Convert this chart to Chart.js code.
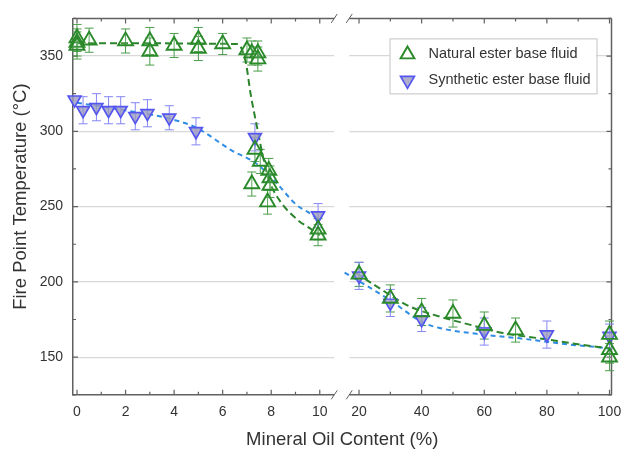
<!DOCTYPE html>
<html><head><meta charset="utf-8">
<script src="https://cdn.jsdelivr.net/npm/chart.js@4.4.1/dist/chart.umd.min.js"></script>
<style>html,body{margin:0;padding:0;background:#fff;overflow:hidden}</style>
</head><body>
<canvas id="c" width="622" height="452"></canvas>
<script>
// ---- data ----
const seriesNames = ['Natural ester base fluid', 'Synthetic ester base fluid'];
const xTitle = 'Mineral Oil Content (%)';
const yTitle = 'Fire Point Temperature (°C)';

const leftTicks = [0, 2, 4, 6, 8, 10];
const leftMinor = [1, 3, 5, 7, 9];
const rightTicks = [20, 40, 60, 80, 100];
const rightMinor = [30, 50, 70, 90];
const yTicks = [150, 200, 250, 300, 350];
const yMinor = [125, 175, 225, 275, 325, 375];

const natLeftX = [0, 0, 0, 0.5, 2, 3, 3, 4, 5, 5, 6, 7.0, 7.2, 7.45, 7.45, 7.33, 7.2, 7.55, 7.9, 7.95, 7.95, 7.85, 9.93, 9.93];
const natLeftY = [362, 359, 357, 360.5, 360, 360, 353, 357, 361, 355, 358, 354, 352, 352, 348, 288, 265, 280, 274, 269, 264, 253, 235, 231];
const natLeftErr = [9, 9, 9, 8, 8, 9, 9, 8, 8, 8, 7, 8, 8, 8, 8, 8, 8, 8, 8, 8, 8, 8, 7, 7];

const synLeftX = [-0.1, 0.25, 0.8, 1.3, 1.8, 2.4, 2.9, 3.8, 4.9, 7.33, 9.93];
const synLeftY = [321, 314, 316, 314, 314, 310, 312, 309, 300, 296, 244];
const synLeftErr = [0, 9, 9, 9, 9, 9, 9, 8, 9, 9, 8];

const natRightX = [20, 30, 40, 50, 60, 70, 100, 100, 100];
const natRightY = [205, 189, 180, 179, 171, 168, 165, 155, 150];
const natRightErr = [8, 9, 9, 9, 9, 8, 9, 9, 9];

const synRightX = [20, 30, 40, 60, 80, 100];
const synRightY = [204, 186, 175, 167, 165, 164];
const synRightErr = [9, 9, 8, 9, 9, 8];

const natFitLeftX = [0, 6.6, 6.95, 7.15, 7.45, 7.65, 7.9, 8.35, 9.1, 9.6, 10];
const natFitLeftY = [358.5, 358, 346, 325, 300, 284, 268, 254, 241, 235.5, 231];
const synFitLeftX = [0, 2.7, 3.8, 4.9, 6.4, 7.4, 8.2, 9.05, 9.5, 10];
const synFitLeftY = [319, 312, 308.5, 302.5, 287, 278.5, 266, 251, 246.5, 241];
const natFitRightX = [19, 25.6, 36.2, 45.7, 55.3, 66, 76.6, 95.8, 100];
const natFitRightY = [206, 197, 183.7, 177, 171.6, 166, 162.8, 156.9, 156];
const synFitRightX = [15.4, 29.8, 40.4, 45.7, 57.5, 71.3, 87.2, 97.9, 100];
const synFitRightY = [206.2, 188, 173, 169.4, 165.5, 162.5, 158.4, 156.2, 155.5];

// ---- styles ----
const FONT = "'Liberation Sans', Arial, sans-serif";
const TXT = '#333333';
const AXIS = '#606060';
const GREEN = '#2a8a2a';
const GREEN_FIT = '#2b842b';
const BLUE = '#5555f2';
const BLUE_FILL = 'rgba(155,155,190,0.8)';
const BLUE_FIT = '#2f8de4';

const pts = (xs, ys) => xs.map((x, i) => ({x, y: ys[i]}));

const natPoint = {pointStyle: 'triangle', pointRadius: 8.6, borderColor: GREEN, backgroundColor: 'rgba(255,255,255,0.1)', borderWidth: 1.9, showLine: false, clip: false, errorColor: '#4b9d4b'};
const synPoint = {pointStyle: 'triangle', rotation: 180, pointRadius: 7.4, borderColor: BLUE, backgroundColor: BLUE_FILL, borderWidth: 1.7, showLine: false, clip: false, errorColor: '#8585f5'};
const natFit = {showLine: true, pointRadius: 0, borderColor: GREEN_FIT, borderWidth: 2, borderDash: [7, 4], cubicInterpolationMode: 'monotone', fill: false};
const synFit = {showLine: true, pointRadius: 0, borderColor: BLUE_FIT, borderWidth: 2, borderDash: [5, 4], cubicInterpolationMode: 'monotone', fill: false};

const datasets = [
  Object.assign({label: seriesNames[0], xAxisID: 'x1', data: pts(natLeftX, natLeftY), errors: natLeftErr}, natPoint),
  Object.assign({label: seriesNames[0], xAxisID: 'x2', data: pts(natRightX, natRightY), errors: natRightErr}, natPoint),
  Object.assign({label: seriesNames[1], xAxisID: 'x1', data: pts(synLeftX, synLeftY), errors: synLeftErr}, synPoint),
  Object.assign({label: seriesNames[1], xAxisID: 'x2', data: pts(synRightX, synRightY), errors: synRightErr}, synPoint),
  Object.assign({label: 'fit', xAxisID: 'x1', data: pts(natFitLeftX, natFitLeftY)}, natFit),
  Object.assign({label: 'fit', xAxisID: 'x2', data: pts(natFitRightX, natFitRightY)}, natFit),
  Object.assign({label: 'fit', xAxisID: 'x1', data: pts(synFitLeftX, synFitLeftY)}, synFit),
  Object.assign({label: 'fit', xAxisID: 'x2', data: pts(synFitRightX, synFitRightY)}, synFit)
];

function setTicks(arr) { return s => { s.ticks = arr.map(v => ({value: v})); }; }
const tickFont = {family: FONT, size: 14};

function xAxis(minV, maxV, ticks) {
  return {
    type: 'linear', position: 'bottom', stack: 'xs', stackWeight: 1,
    min: minV, max: maxV,
    afterBuildTicks: setTicks(ticks),
    afterFit: s => { s.height = 28; s.paddingLeft = 0; s.paddingRight = 0; },
    grid: {display: false, drawTicks: false},
    border: {display: true, color: AXIS, width: 1.5},
    ticks: {font: tickFont, color: TXT, padding: 9, maxRotation: 0, autoSkip: false}
  };
}

// ---- decoration plugin: axis break, inward ticks, frame, error bars ----
const deco = {
  id: 'deco',
  beforeDatasetsDraw(chart) {
    const ctx = chart.ctx, ca = chart.chartArea;
    const x1 = chart.scales.x1, x2 = chart.scales.x2, y = chart.scales.y;
    const gL = x1.right - 8, gR = x1.right + 7;
    ctx.save();
    ctx.strokeStyle = AXIS; ctx.lineWidth = 1.5;
    ctx.beginPath();
    ctx.moveTo(ca.left, ca.top); ctx.lineTo(ca.right, ca.top);
    ctx.moveTo(ca.right, ca.top); ctx.lineTo(ca.right, ca.bottom);
    ctx.stroke();
    ctx.fillStyle = '#ffffff';
    ctx.fillRect(gL, ca.top - 2, gR - gL, ca.bottom - ca.top + 4);
    ctx.lineWidth = 1;
    ctx.beginPath();
    [ca.top, ca.bottom].forEach(yy => {
      [gL, gR].forEach(xx => { ctx.moveTo(xx - 3, yy + 4.5); ctx.lineTo(xx + 3, yy - 4.5); });
    });
    ctx.stroke();
    ctx.lineWidth = 1.2;
    ctx.beginPath();
    const xt = (sc, vals, len) => vals.forEach(v => {
      const px = sc.getPixelForValue(v);
      ctx.moveTo(px, ca.bottom); ctx.lineTo(px, ca.bottom - len);
      ctx.moveTo(px, ca.top); ctx.lineTo(px, ca.top + len);
    });
    xt(x1, leftTicks, 5); xt(x1, leftMinor, 3);
    xt(x2, rightTicks, 5); xt(x2, rightMinor, 3);
    const yt = (vals, len) => vals.forEach(v => {
      const py = y.getPixelForValue(v);
      ctx.moveTo(ca.left, py); ctx.lineTo(ca.left + len, py);
      ctx.moveTo(ca.right, py); ctx.lineTo(ca.right - len, py);
    });
    yt(yTicks, 5); yt(yMinor, 3);
    ctx.stroke();
    chart.data.datasets.forEach((ds, i) => {
      if (!ds.errors) return;
      const meta = chart.getDatasetMeta(i);
      ctx.strokeStyle = ds.errorColor; ctx.lineWidth = 1;
      ctx.beginPath();
      meta.data.forEach((p, j) => {
        const e = ds.errors[j]; if (!e) return;
        const v = ds.data[j].y;
        const t = y.getPixelForValue(v + e), b = y.getPixelForValue(v - e);
        ctx.moveTo(p.x, t); ctx.lineTo(p.x, b);
        ctx.moveTo(p.x - 4.5, t); ctx.lineTo(p.x + 4.5, t);
        ctx.moveTo(p.x - 4.5, b); ctx.lineTo(p.x + 4.5, b);
      });
      ctx.stroke();
    });
    ctx.restore();
  },
  afterDraw(chart) {
    const ctx = chart.ctx, ca = chart.chartArea;
    ctx.save();
    ctx.fillStyle = TXT;
    ctx.font = '18.5px ' + FONT;
    ctx.textAlign = 'center'; ctx.textBaseline = 'middle';
    ctx.translate(21, (ca.top + ca.bottom) / 2 - 10);
    ctx.rotate(-Math.PI / 2);
    ctx.fillText(yTitle, 0, 0);
    ctx.restore();
    ctx.save();
    const lx = ca.right - 222, ly = ca.top + 20, lw = 207, lh = 55;
    ctx.fillStyle = '#fff'; ctx.fillRect(lx, ly, lw, lh);
    ctx.strokeStyle = '#c4c4c4'; ctx.lineWidth = 1;
    ctx.strokeRect(lx + 0.5, ly + 0.5, lw, lh);
    const items = [
      {name: seriesNames[0], st: natPoint, cy: ly + 16},
      {name: seriesNames[1], st: synPoint, cy: ly + 42}
    ];
    items.forEach(it => {
      ctx.strokeStyle = it.st.borderColor; ctx.fillStyle = it.st.backgroundColor;
      ctx.lineWidth = it.st.borderWidth;
      Chart.helpers.drawPoint(ctx, {pointStyle: 'triangle', rotation: it.st.rotation || 0, radius: 8, borderWidth: it.st.borderWidth}, lx + 18, it.cy);
      ctx.fillStyle = TXT; ctx.font = '14.5px ' + FONT;
      ctx.textAlign = 'left'; ctx.textBaseline = 'middle';
      ctx.fillText(it.name, lx + 39, it.cy);
    });
    ctx.restore();
  }
};

new Chart(document.getElementById('c'), {
  type: 'scatter',
  data: {datasets},
  plugins: [deco],
  options: {
    responsive: false, animation: false, events: [],
    layout: {padding: {top: 17, right: 10, left: 0, bottom: 0}},
    plugins: {
      legend: {display: false}, tooltip: {enabled: false},
      title: {display: true, text: xTitle, position: 'bottom', fullSize: false, color: TXT,
              font: {family: FONT, size: 18.5, weight: 'normal'}, padding: {top: 6, bottom: 1}}
    },
    scales: {
      x1: xAxis(-0.165, 10.926, leftTicks),
      x2: xAxis(14.64, 100.64, rightTicks),
      y: {
        type: 'linear', position: 'left', min: 125, max: 375,
        afterBuildTicks: setTicks(yTicks),
        afterFit: s => { s.width = 73; },
        grid: {color: '#d8d8d8', lineWidth: 1.2, drawTicks: false},
        border: {display: true, color: AXIS, width: 1.5},
        ticks: {font: tickFont, color: TXT, padding: 10}
      }
    }
  }
});
</script>
</body></html>
